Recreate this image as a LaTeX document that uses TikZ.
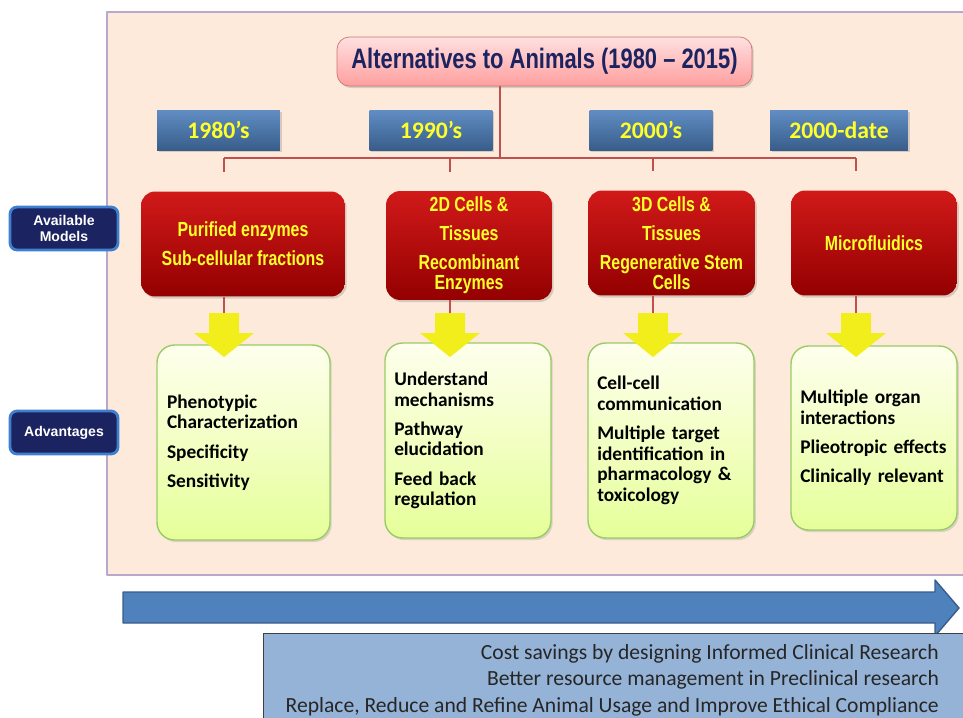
\documentclass[tikz,border=0pt]{standalone}
\usepackage{fontspec}
\usetikzlibrary{shadows}
\newfontfamily\narrowsf[FakeStretch=0.78]{Liberation Sans}
\newfontfamily\calibri{Carlito}
\newfontfamily\arialsf{Liberation Sans}
\definecolor{peach}{HTML}{FDEADA}
\definecolor{lavender}{HTML}{B8A8CC}
\definecolor{brick}{HTML}{C0504D}
\definecolor{navy}{HTML}{1B2460}
\definecolor{skyline}{HTML}{3F7FD0}
\definecolor{yellowtxt}{HTML}{FFFF2A}
\definecolor{arrowyel}{HTML}{F2EE1C}
\definecolor{steel}{HTML}{4F81BD}
\definecolor{steeldark}{HTML}{385D8A}
\definecolor{paleblue}{HTML}{95B3D7}
\begin{document}
\begin{tikzpicture}[x=0.02cm, y=-0.02cm, line join=round,
	conn/.style={draw=brick, line width=1.4pt},
	titlebox/.style={draw=brick!80, rounded corners=7pt, top color=red!12, bottom color=red!38, drop shadow={opacity=0.3, shadow xshift=1pt, shadow yshift=-1.2pt}, minimum width=8.3cm, minimum height=0.98cm, font=\narrowsf\bfseries\fontsize{16}{19}\selectfont, text=navy},
	yearbox/.style={top color=steel!90, bottom color=steeldark, minimum height=0.8cm, drop shadow={opacity=0.3, shadow xshift=1pt, shadow yshift=-1.2pt}, font=\calibri\bfseries\fontsize{13.5}{15}\selectfont, text=yellowtxt},
	modelbox/.style={rounded corners=8pt, top color=red!80!black!90!white, bottom color=red!58!black, minimum height=2.1cm, align=center, drop shadow={opacity=0.3, shadow xshift=1pt, shadow yshift=-1.2pt}, font=\narrowsf\bfseries\fontsize{11.6}{11.5}\selectfont, text=yellowtxt},
	advbox/.style={draw=green!35!olive!60, line width=0.8pt, rounded corners=10pt, top color=green!6!yellow!7, bottom color=green!25!yellow!40!white, inner sep=0pt, align=left, drop shadow={opacity=0.25, shadow xshift=1pt, shadow yshift=-1.2pt}, font=\calibri\bfseries\fontsize{11}{11.7}\selectfont},
	sidebox/.style={draw=skyline, line width=1.6pt, fill=navy, rounded corners=4pt, minimum width=2.16cm, minimum height=0.86cm, align=center, text=white, font=\arialsf\bfseries\fontsize{8}{9.4}\selectfont}]
	\useasboundingbox (0,0) rectangle (963,717);
	\draw[lavender, line width=0.8pt, fill=peach] (107,12) rectangle (964,575);
	\node[titlebox] (title) at (544.5,61.5) {Alternatives to Animals (1980 – 2015)};
	\node[yearbox, minimum width=2.46cm] (y1) at (218.5,130) {1980’s};
	\node[yearbox, minimum width=2.46cm] (y2) at (431,130) {1990’s};
	\node[yearbox, minimum width=2.46cm] (y3) at (651,130) {2000’s};
	\node[yearbox, minimum width=2.76cm] (y4) at (839,130) {2000-date};
	\node[modelbox, minimum width=4.08cm] (m1) at (243,244) {Purified enzymes\\[5pt]Sub-cellular fractions};
	\node[modelbox, minimum width=3.32cm] (m2) at (469,245.5) {2D Cells \&\\[5pt]Tissues\\[5pt]Recombinant\\Enzymes};
	\node[modelbox, minimum width=3.34cm] (m3) at (671.5,243) {3D Cells \&\\[5pt]Tissues\\[5pt]Regenerative Stem\\Cells};
	\node[modelbox, minimum width=3.32cm] (m4) at (874,243) {Microfluidics};
	\node[advbox, minimum width=3.46cm, minimum height=3.9cm, text width=3.06cm] (a1) at (243.5,442.5) {Phenotypic\\Characterization\\[5pt]Specificity\\[5pt]Sensitivity};
	\node[advbox, minimum width=3.32cm, minimum height=3.9cm, text width=2.95cm] (a2) at (468,440.5) {Understand\\mechanisms\\[5pt]Pathway\\elucidation\\[5pt]Feed back\\regulation};
	\node[advbox, minimum width=3.32cm, minimum height=3.9cm, text width=2.95cm] (a3) at (671,440.5) {Cell-cell\\communication\\[5pt]Multiple target\\identification in\\pharmacology \&\\toxicology};
	\node[advbox, minimum width=3.32cm, minimum height=3.68cm, text width=2.95cm] (a4) at (874,438) {Multiple organ\\interactions\\[5pt]Plieotropic effects\\[5pt]Clinically relevant};
	\node[sidebox] (lblmod) at (64,228.5) {Available\\Models};
	\node[sidebox] (lbladv) at (64,432.5) {Advantages};
	\coordinate (j) at (500,158);
	\foreach \i/\x in {1/224,2/450,3/653,4/856} {
		\coordinate (b\i) at (\x,158);
		\coordinate (t\i) at (\x,313);
		\draw[conn, shorten >=0.38cm] (b\i) -- (b\i |- m\i.north);
		\draw[conn] (m\i.south -| b\i) -- (t\i);
		\fill[arrowyel] (t\i) ++(-15,0) -- ++(30,0) -- ++(0,20) -- ++(15,0) -- ++(-30,24) -- ++(-30,-24) -- ++(15,0) -- cycle;
	}
	\draw[conn] (title.south -| j) -- (j);
	\draw[conn] (b1) -- (b4);
	\draw[steeldark, line width=0.8pt, fill=steel] (123,592) -- (935,592) -- (935,580) -- (959,608) -- (935,636) -- (935,623) -- (123,623) -- cycle;
	\node[draw=black!75, line width=0.8pt, fill=paleblue, anchor=north west, minimum width=14cm, minimum height=2cm, inner sep=0pt] (gain) at (263,633) {};
	\node[anchor=north east, align=right, text=black!85, font=\calibri\fontsize{12.3}{15.2}\selectfont] (gaintxt) at (945,638) {Cost savings by designing Informed Clinical Research\\Better resource management in Preclinical research\\Replace, Reduce and Refine Animal Usage and Improve Ethical Compliance};
\end{tikzpicture}
\end{document}
